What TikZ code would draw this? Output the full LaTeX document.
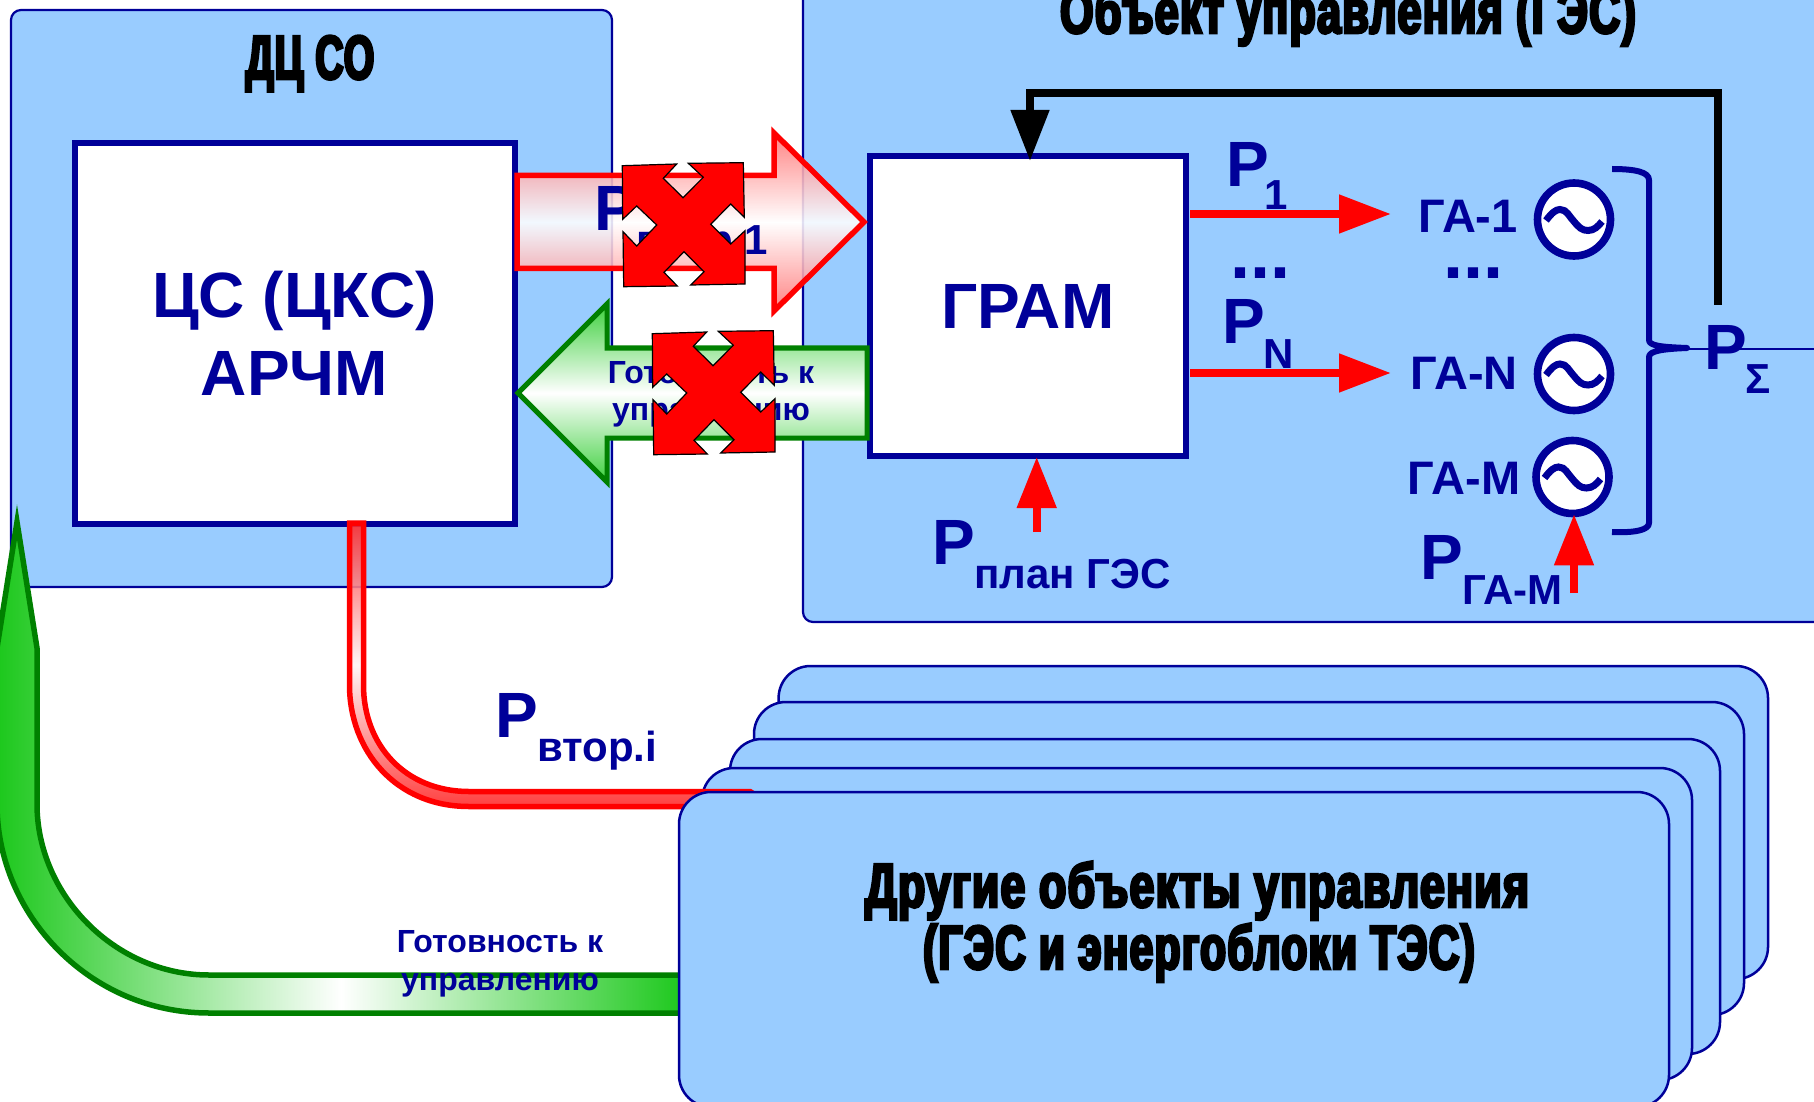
\documentclass[tikz,border=0pt]{standalone}
\usepackage{fontspec}
\usetikzlibrary{arrows.meta,calc}
\setmainfont{Liberation Sans}
\newfontfamily\heavya{Liberation Sans}[UprightFont=* Bold,FakeStretch=0.72,FakeBold=4.5,LetterSpace=2]
\newfontfamily\heavyb{Liberation Sans}[UprightFont=* Bold,FakeStretch=0.685,FakeBold=4.5,LetterSpace=2]
\newfontfamily\heavyc{Liberation Sans}[UprightFont=* Bold,FakeStretch=0.63,FakeBold=4.5,LetterSpace=2]
\newfontfamily\heavyd{Liberation Sans}[UprightFont=* Bold,FakeStretch=0.695,FakeBold=4.5,LetterSpace=2]
\definecolor{navy}{HTML}{000099}
\definecolor{panelblue}{HTML}{99CCFF}
\definecolor{grn}{HTML}{008000}
\definecolor{grnfill}{HTML}{1CC81C}
\newcommand{\sz}[1]{\fontsize{#1}{#1}\selectfont}
\tikzset{
  panel/.style={draw=navy,fill=panelblue,line width=2.2pt,rounded corners=10pt,inner sep=0pt,outer sep=0pt},
  stackbox/.style={draw=navy,fill=panelblue,line width=2.5pt,rounded corners=32pt,inner sep=0pt,outer sep=0pt},
  whitebox/.style={draw=navy,fill=white,line width=6pt,inner sep=0pt,text=navy,font=\bfseries\sz{64},align=center},
  gen/.style={circle,draw=navy,fill=white,line width=7.6pt,minimum size=73pt,inner sep=0pt},
  big/.style={text=navy,font=\bfseries\sz{64},anchor=base west,inner sep=0pt},
  small/.style={text=navy,font=\bfseries\sz{42},anchor=base west,inner sep=0pt},
  galabel/.style={text=navy,font=\bfseries\sz{47},anchor=base,inner sep=0pt},
  dots/.style={text=navy,font=\bfseries\sz{72},anchor=base west,inner sep=0pt},
  ready/.style={text=navy,font=\bfseries\sz{32},anchor=base,inner sep=0pt},
  heavytitle/.style={text=black,anchor=base,inner sep=0pt,align=center},
  redarrow/.style={line width=8pt,red,-{Triangle[length=52pt,width=37pt]}},
  cross/.style={fill=red,draw=black,line width=1.2pt,line join=miter},
  wave/.style={draw=navy,line width=7pt,line cap=butt},
  redflow/.style={draw=red,line width=5.5pt,line join=miter,miter limit=10},
  grnflow/.style={draw=grn,line width=5.5pt,line join=miter,miter limit=10}
}
\newcommand{\redcross}[2]{%
\begin{scope}[shift={(#1,#2)}]
\fill[cross] (622.3,165.7) -- (676.7,164) -- (663.3,178.3) -- (683,197.7) -- (703.3,177.3) -- (688.3,163.3) -- (743.3,162.7)
 -- (744.3,217.3) -- (730.7,204) -- (710.7,224.3) -- (730.7,244) -- (745,230.7) -- (745,284)
 -- (690.7,285) -- (704,271.7) -- (684,251.7) -- (664,272.3) -- (677.3,286) -- (623.7,286.7)
 -- (623,231.7) -- (636.7,246) -- (656.7,225) -- (636.7,206) -- (622.7,219.3) -- cycle;
\end{scope}}
\newcommand{\tildewave}[1]{%
\draw[wave] ($(#1)+(-28,1)$) .. controls ($(#1)+(-22,-7)$) and ($(#1)+(-18,-10)$) .. ($(#1)+(-14,-10)$)
 .. controls ($(#1)+(-7,-10)$) and ($(#1)+(-5,-3)$) .. ($(#1)+(0,2)$)
 .. controls ($(#1)+(5,8)$) and ($(#1)+(8,11)$) .. ($(#1)+(14,11)$)
 .. controls ($(#1)+(20,11)$) and ($(#1)+(24,7)$) .. ($(#1)+(28,2)$);}
\begin{document}
\begin{tikzpicture}[x=1pt,y=-1pt]
\useasboundingbox (0,0) rectangle (1814,1101.5);
\fill[white] (0,0) rectangle (1814,1103);

% panels
\node[panel,minimum width=601pt,minimum height=577pt] (dc) at (311.5,298.5) {};
\node[panel,minimum width=1200pt,minimum height=720pt] (obj) at (1403,262) {};
\node[heavytitle,font=\heavyc\sz{62}] (dctitle) at (310,79) {ДЦ СО};
\node[heavytitle,font=\heavyd\sz{62}] (objtitle) at (1348,33) {Объект управления (ГЭС)};

% back boxes of the stack
\node[stackbox,minimum width=989.4pt,minimum height=313pt] (s5) at (1273.3,822.5) {};
\node[stackbox,minimum width=990pt,minimum height=313pt] (s4) at (1249,858.5) {};
\node[stackbox,minimum width=990pt,minimum height=315pt] (s3) at (1225,896.5) {};
\node[stackbox,minimum width=990pt,minimum height=312pt] (s2) at (1197,924) {};

% main boxes
\node[whitebox,minimum width=440pt,minimum height=380pt] (cs) at (294.5,333.5) {ЦС (ЦКС)\\[14pt]АРЧМ};
\node[whitebox,minimum width=316pt,minimum height=300pt] (gram) at (1028,306) {ГРАМ};

% lower flow tubes
\path[redflow,top color=red!85,bottom color=red!85,middle color=white!96!red,fill opacity=0.88]
 (349.5,523) -- (363.5,523) -- (363.5,685) .. controls (363.5,745) and (405,791.5) .. (469,791.5)
 -- (750,791.5) -- (762,799) -- (750,806.5) -- (469,806.5) .. controls (395,806.5) and (349.5,750) .. (349.5,685) -- cycle;
\path[grnflow,left color=grnfill,right color=grnfill,middle color=white]
 (17,522) -- (37,648) -- (37,804) .. controls (37,895) and (115,975) .. (209,975) -- (685,975) -- (685,1013)
 -- (209,1013) .. controls (90,1013) and (-3,915) .. (-3,804) -- (-3,648) -- cycle;

% front box
\node[stackbox,minimum width=990pt,minimum height=315pt] (s1) at (1174,949.5) {};
\node[heavytitle,font=\heavya\sz{62}] (s1a) at (1197,907) {Другие объекты управления};
\node[heavytitle,font=\heavyb\sz{62}] (s1b) at (1199,969) {(ГЭС и энергоблоки ТЭС)};

% lower labels
\node[ready] (rd3) at (500,952) {Готовность к};
\node[ready] (rd4) at (500,990) {управлению};
\node[big] (pi) at (495,737) {P};
\node[small] (pis) at (537,761) {втор.i};

% horizontal arrows
\path[redflow,top color=red!55,bottom color=red!55,middle color=white,fill opacity=0.88]
 (517,175.5) -- (774,175.5) -- (774,133) -- (864,222) -- (774,311) -- (774,268.5) -- (517,268.5) -- cycle;
\node[big] (p0) at (594,231) {P};
\node[small] (p0s) at (636,255) {втор.1};
\path[grnflow,top color=grnfill!85,bottom color=grnfill!85,middle color=white,line width=5pt]
 (518,393) -- (607,304) -- (607,348) -- (867,348) -- (867,438) -- (607,438) -- (607,482) -- cycle;
\node[ready] (rd1) at (711,383) {Готовность к};
\node[ready] (rd2) at (711,420) {управлению};
\redcross{0}{0}
\redcross{30}{168}

% feedback line
\coordinate (sumtop) at (1718,305);
\coordinate (fbturn) at (1718,93);
\coordinate (fbleft) at (1030,93);
\draw[black,line width=8pt,line join=miter,-{Triangle[length=51pt,width=37pt]}]
  (sumtop) -- (fbturn) -- (fbleft) -- ([yshift=-8pt]fbleft |- gram.north);

% outputs
\coordinate (o1s) at (1190,214);
\coordinate (o1e) at (1391,214);
\coordinate (o2s) at (1190,373);
\coordinate (o2e) at (1391,373);
\draw[redarrow] (o1s) -- (o1e);
\draw[redarrow] (o2s) -- (o2e);
\node[big] (p1) at (1226,187) {P};
\node[small] (p1s) at (1264,210) {1};
\node[big] (pn) at (1222,344) {P};
\node[small] (pns) at (1263,368) {N};
\node[dots] (d1) at (1230,279) {...};
\node[dots] (d2) at (1443,279) {...};

% generators
\node[galabel] (ga1) at (1468,233) {ГА-1};
\node[galabel] (gan) at (1464,389) {ГА-N};
\node[galabel] (gam) at (1464,494.5) {ГА-М};
\node[gen] (g1) at (1574,219.5) {};
\node[gen] (g2) at (1574,374) {};
\node[gen] (g3) at (1572.5,477) {};
\tildewave{g1}
\tildewave{g2}
\tildewave{g3}

% brace
\draw[navy,line width=6pt,line join=round] (1612,169) .. controls (1635,169) and (1649,172) .. (1649,180) -- (1649,340)
 .. controls (1649,346) and (1662,347) .. (1687,348) .. controls (1662,349) and (1649,351) .. (1649,357) -- (1649,523)
 .. controls (1649,530) and (1635,533) .. (1612,532);
\coordinate (bracetip) at (1687,349);
\coordinate (bracefar) at (1814,349);
\draw[navy,line width=2.5pt] (bracetip) -- (bracefar);
\node[big] (ps) at (1704,369) {P};
\node[small] (pss) at (1745,393) {Σ};

% plan arrows
\coordinate (ps1) at (1036.7,532);
\draw[red,line width=8pt,-{Triangle[length=51pt,width=38pt]}] (ps1) -- ([yshift=2pt]ps1 |- gram.south);
\node[big] (pp) at (932,564.5) {P};
\node[small] (pps) at (974,588.5) {план ГЭС};
\coordinate (ps2) at (1574,593);
\draw[red,line width=8pt,-{Triangle[length=51pt,width=38pt]}] (ps2) -- ([yshift=3pt]ps2 |- g3.south);
\node[big] (pg) at (1420,579.5) {P};
\node[small] (pgs) at (1462,604) {ГА-М};
\end{tikzpicture}
\end{document}
